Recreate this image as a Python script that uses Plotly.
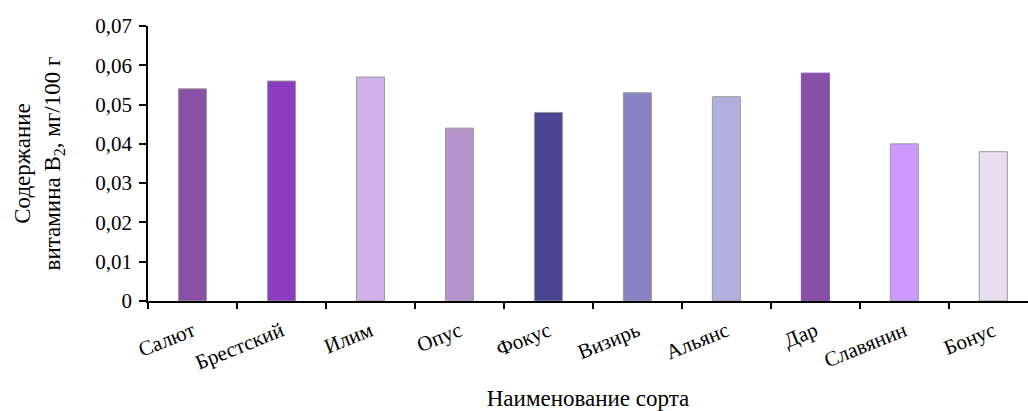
import plotly.graph_objects as go

varieties = ["Салют", "Брестский", "Илим", "Опус", "Фокус",
             "Визирь", "Альянс", "Дар", "Славянин", "Бонус"]
b2_content = [0.054, 0.056, 0.057, 0.044, 0.048, 0.053, 0.052, 0.058, 0.040, 0.038]
bar_colors = ["#8950A8", "#8B3CC1", "#D1B1E7", "#B794CC", "#4A4593",
              "#8884C4", "#B1AFDB", "#874FA7", "#CC99FF", "#EADDF2"]
outline_colors = ["#999999"] * 7 + ["#874FA7"] + ["#999999"] * 2
y_ticks = [0, 0.01, 0.02, 0.03, 0.04, 0.05, 0.06, 0.07]
y_tick_text = ["0", "0,01", "0,02", "0,03", "0,04", "0,05", "0,06", "0,07"]

font_family = "Liberation Serif"

fig = go.Figure(go.Bar(
    x=varieties,
    y=b2_content,
    width=0.315,
    marker=dict(color=bar_colors, line=dict(color=outline_colors, width=1)),
))

fig.update_layout(
    width=1028, height=411,
    margin=dict(l=148, r=0, t=26, b=108),
    paper_bgcolor="white", plot_bgcolor="white",
    font=dict(family=font_family, size=21, color="black"),
    showlegend=False,
    xaxis=dict(
        range=[-0.5, 9.39],
        tickangle=-22,
        ticks="outside", ticklen=6, tickwidth=1.5, tickcolor="black",
        tickson="boundaries",
        ticklabelstandoff=8,
        showline=True, linecolor="black", linewidth=1.5,
        showgrid=False,
        tickfont=dict(family=font_family, size=21),
        title=dict(text="Наименование сорта", font=dict(family=font_family, size=23), standoff=20),
    ),
    yaxis=dict(
        range=[0, 0.07],
        tickvals=y_ticks, ticktext=y_tick_text,
        ticks="outside", ticklen=7, tickwidth=1.5, tickcolor="black",
        ticklabelstandoff=3,
        showline=True, linecolor="black", linewidth=1.5,
        showgrid=False, zeroline=False,
        tickfont=dict(family=font_family, size=21),
        title=dict(text="Содержание<br>витамина B<sub>2</sub>, мг/100 г",
                   font=dict(family=font_family, size=23), standoff=28),
    ),
)

fig.write_html("out.html")
